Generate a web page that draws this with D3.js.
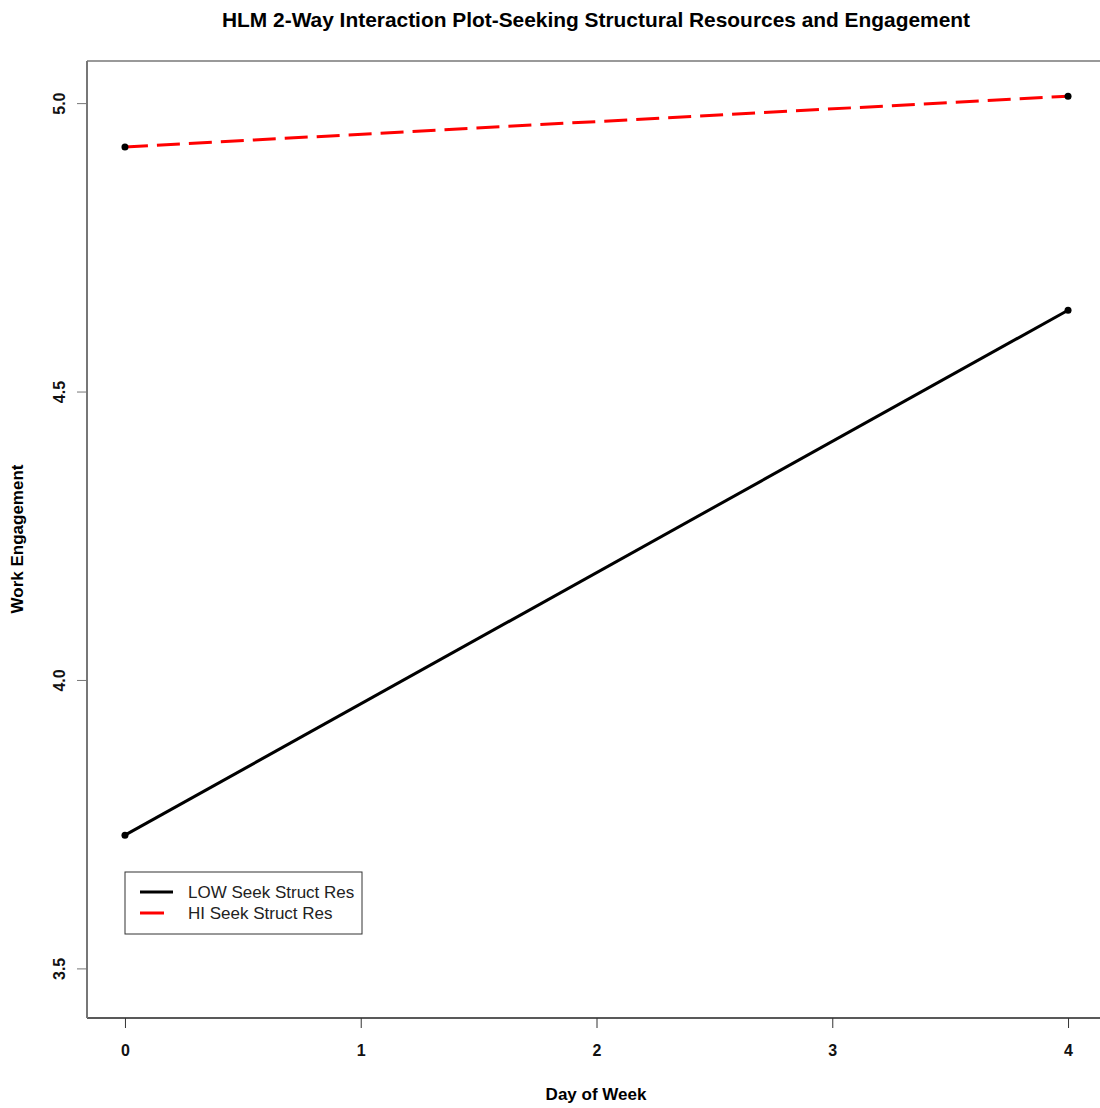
<!DOCTYPE html>
<html lang="en">
<head>
<meta charset="UTF-8">
<title>HLM 2-Way Interaction Plot</title>
<script src="https://d3js.org/d3.v7.min.js"></script>
<style>
body { margin: 0; background: #fff; }
text { font-family: "Liberation Sans", Arial, sans-serif; }
</style>
</head>
<body>
<div id="chart"></div>
<script>
// data
const days = [0, 4];
const lowSeek = [3.731, 4.641];
const hiSeek = [4.924, 5.012];
const xTicks = [0, 1, 2, 3, 4];
const yTicks = [3.5, 4.0, 4.5, 5.0];
const seriesNames = ["LOW Seek Struct Res", "HI Seek Struct Res"];

const W = 1100, H = 1108;
const plot = { left: 87, top: 61, right: 1106, bottom: 1018 };

const svg = d3.select("#chart").append("svg")
  .attr("width", W)
  .attr("height", H);

const x = d3.scaleLinear().domain([-0.161, 4.161]).range([plot.left, plot.right]);
const y = d3.scaleLinear().domain([3.414, 5.073]).range([plot.bottom, plot.top]);

// title
svg.append("text")
  .attr("x", 596).attr("y", 27)
  .attr("text-anchor", "middle")
  .style("font-size", "21px").style("font-weight", "bold")
  .attr("textLength", 748).attr("lengthAdjust", "spacingAndGlyphs")
  .text("HLM 2-Way Interaction Plot-Seeking Structural Resources and Engagement");

// frame (top grey)
svg.append("line").attr("x1", plot.left).attr("x2", W).attr("y1", plot.top).attr("y2", plot.top)
  .attr("stroke", "#999").attr("stroke-width", 2);

// x axis
const xAxis = svg.append("g")
  .attr("transform", `translate(0,${plot.bottom})`)
  .call(d3.axisBottom(x).tickValues(xTicks).tickFormat(d3.format("d")).tickSize(10).tickPadding(17));
xAxis.select(".domain").attr("stroke", "#222").attr("stroke-width", 1.5).attr("d", `M${plot.left},0H${W}`);
xAxis.selectAll(".tick line").attr("stroke", "#333");
xAxis.selectAll(".tick text").style("font-size", "16px").style("font-weight", "bold")
  .style("font-family", "Liberation Sans, Arial, sans-serif").attr("fill", "#111");

// y axis
const yAxis = svg.append("g")
  .attr("transform", `translate(${plot.left},0)`)
  .call(d3.axisLeft(y).tickValues(yTicks).tickFormat(d3.format(".1f")).tickSize(10).tickPadding(0));
yAxis.select(".domain").attr("stroke", "#777").attr("stroke-width", 2).attr("d", `M0,${plot.top}V${plot.bottom}`);
yAxis.selectAll(".tick line").attr("stroke", "#777");
yAxis.selectAll(".tick text")
  .attr("x", null).attr("dy", null)
  .attr("text-anchor", "middle")
  .attr("transform", "translate(-22,0) rotate(-90)")
  .attr("y", 0)
  .style("font-size", "16px").style("font-weight", "bold")
  .style("font-family", "Liberation Sans, Arial, sans-serif").attr("fill", "#111");

// axis titles
svg.append("text")
  .attr("x", 596).attr("y", 1100)
  .attr("text-anchor", "middle")
  .style("font-size", "17px").style("font-weight", "bold")
  .text("Day of Week");
svg.append("text")
  .attr("transform", "translate(23,539) rotate(-90)")
  .attr("text-anchor", "middle")
  .style("font-size", "17px").style("font-weight", "bold")
  .text("Work Engagement");

// lines
const line = d3.line().x((d, i) => x(days[i])).y(d => y(d));
svg.append("path").datum(lowSeek).attr("d", line)
  .attr("fill", "none").attr("stroke", "#000").attr("stroke-width", 3);
svg.append("path").datum(hiSeek).attr("d", line)
  .attr("fill", "none").attr("stroke", "#ff0000").attr("stroke-width", 3)
  .attr("stroke-dasharray", "23,9");

// points
[lowSeek, hiSeek].forEach(s => {
  svg.selectAll(null).data(s).enter().append("circle")
    .attr("cx", (d, i) => x(days[i])).attr("cy", d => y(d))
    .attr("r", 3.5).attr("fill", "#000");
});

// legend
const lg = svg.append("g").attr("transform", "translate(125,872)");
lg.append("rect").attr("width", 237).attr("height", 62)
  .attr("fill", "#fff").attr("stroke", "#333").attr("stroke-width", 1);
const legendStyles = [{ c: "#000", len: 48 }, { c: "#ff0000", len: 39 }];
seriesNames.forEach((name, i) => {
  const yy = 20 + i * 21;
  lg.append("line").attr("x1", 15).attr("x2", legendStyles[i].len).attr("y1", yy).attr("y2", yy)
    .attr("stroke", legendStyles[i].c).attr("stroke-width", 3);
  lg.append("text").attr("x", 63).attr("y", yy + 6)
    .style("font-size", "17px").attr("fill", "#222")
    .text(name);
});
</script>
</body>
</html>
